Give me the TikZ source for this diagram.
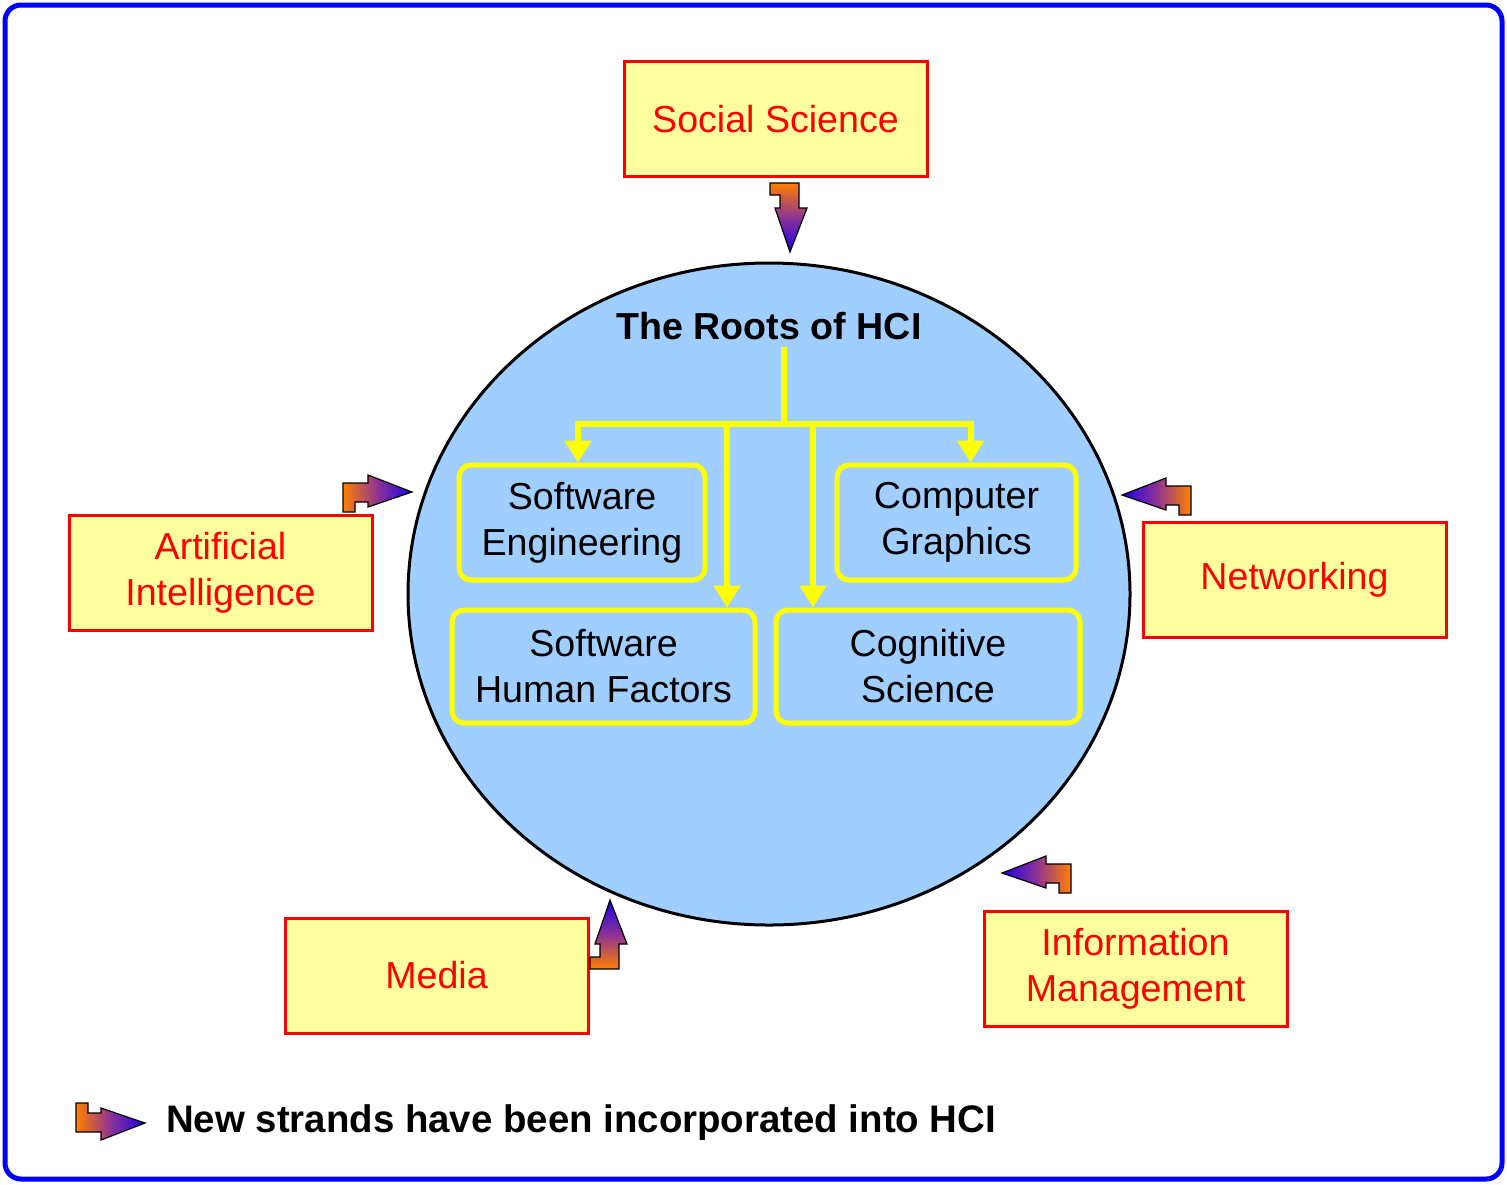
\documentclass[tikz,border=0pt]{standalone}
\usepackage{fontspec}
\setmainfont{Liberation Sans}
\usetikzlibrary{arrows.meta}

\definecolor{frameblue}{RGB}{0,0,255}
\definecolor{rootsfill}{RGB}{160,206,255}
\definecolor{boxfill}{RGB}{255,255,160}
\definecolor{boxred}{RGB}{255,0,0}
\definecolor{branchyel}{RGB}{255,255,0}
\definecolor{strandA}{RGB}{255,128,0}
\definecolor{strandB}{RGB}{140,50,150}
\definecolor{strandC}{RGB}{30,0,230}

\begin{document}
\begin{tikzpicture}[x=0.5pt,y=-0.5pt,
  labelfont/.style={font=\fontsize{18.8}{23}\selectfont},
  fieldbox/.style={labelfont, draw=boxred, fill=boxfill, line width=1.5pt,
    text=boxred, align=center, inner sep=0pt,
    minimum width=151.5pt, minimum height=57.5pt},
  rootbox/.style={labelfont, draw=branchyel, line width=2.5pt,
    rounded corners=6pt, text=black, align=center, inner sep=0pt},
  branch/.style={draw=branchyel, line width=3pt},
  brancharrow/.style={branch, -{Triangle[width=13pt,length=11pt]}},
  % bent arrow, tip at the origin; #1 turns the colour run to follow it
  pics/strand/.style={code={
    \shade[draw=black, line width=0.6pt, line join=miter,
      left color=strandA, right color=strandC, middle color=strandB,
      shading angle=#1]
      (-69,20) -- (-69,-9) -- (-44,-9) -- (-44,-17) -- (0,0) -- (-44,15)
      -- (-44,10) -- (-57,10) -- (-57,20) -- cycle;
  }}]

% page and frame
\useasboundingbox (0,0) rectangle (1507,1184);
\draw[frameblue, line width=2.5pt, fill=white, rounded corners=8pt]
  (5,5) rectangle (1502,1179);

% the central disc
\draw[black, line width=1.5pt, fill=rootsfill]
  (769,594) ellipse [x radius=180.5pt, y radius=165.5pt];

\node[labelfont, font=\fontsize{18.8}{23}\selectfont\bfseries] (title) at (769,326) {The Roots of HCI};

% the four roots
\node[rootbox, minimum width=123pt, minimum height=57.5pt] (se) at (582,522.5) {Software\\Engineering};
\node[rootbox, minimum width=119.5pt, minimum height=57.5pt] (cg) at (956.5,522.5) {Computer\\Graphics};
\node[rootbox, minimum width=151.5pt, minimum height=56.5pt] (shf) at (603.5,666.5) {Software\\Human Factors};
\node[rootbox, minimum width=152pt, minimum height=56.5pt] (cs) at (928,666.5) {Cognitive\\Science};

% branching connectors
\coordinate (trunktop) at (784,347);
\coordinate (j) at (784,424);
\draw[branch] (trunktop) -- (j);
\draw[brancharrow] (j) -| ([xshift=-2pt]se.north);
\draw[brancharrow] (j) -| ([xshift=7pt]cg.north);
\draw[brancharrow] (j) -| ([xshift=61.75pt]shf.north);
\draw[brancharrow] (j) -| ([xshift=-57.5pt]cs.north);

% surrounding fields
\node[fieldbox] (soc) at (775.5,119) {Social Science};
\node[fieldbox] (ai) at (220.5,572.5) {Artificial\\Intelligence};
\node[fieldbox] (net) at (1294.5,579.5) {Networking};
\node[fieldbox] (med) at (436.5,975.5) {Media};
\node[fieldbox] (inf) at (1135.5,968.5) {Information\\Management};

% new strands flowing in
\pic[rotate=-90] at (790,252) {strand=0};
\pic at (412,492) {strand=90};
\pic[xscale=-1] at (1122,495) {strand=270};
\pic[xscale=-1] at (1002,873) {strand=270};
\pic[rotate=90, yscale=-1] at (610,900) {strand=180};

% key
\pic[yscale=-1] at (145,1123) {strand=90};
\node[font=\fontsize{19.2}{23}\selectfont\bfseries, anchor=west] (key) at (159,1123)
  {New strands have been incorporated into HCI};

\end{tikzpicture}
\end{document}
